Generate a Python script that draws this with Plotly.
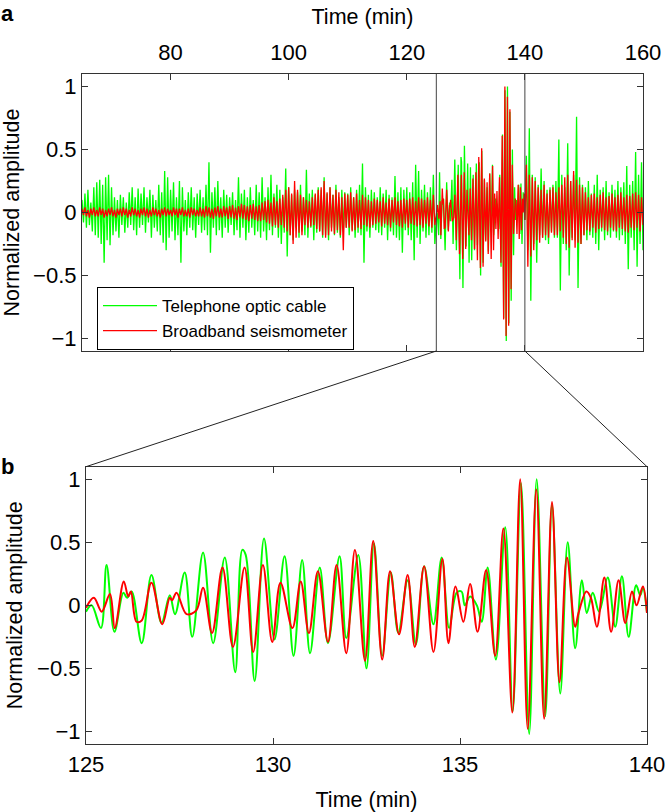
import numpy as np
import plotly.graph_objects as go

# ---------------- data ----------------
# Panel b: extremes of the zoomed window 125-140 min
green_zoom_t = [125.0, 125.15, 125.40, 125.55, 125.76, 126.0, 126.1, 126.22, 126.49, 126.75,
                127.02, 127.24, 127.38, 127.64, 127.84, 128.13, 128.40, 128.71, 128.99, 129.18,
                129.27, 129.51, 129.76, 130.04, 130.31, 130.55, 130.78, 130.99, 131.25, 131.47,
                131.78, 131.96, 132.28, 132.50, 132.70, 132.92, 133.15, 133.35, 133.60, 133.82,
                134.04, 134.29, 134.51, 134.71, 134.91, 135.04, 135.13, 135.27, 135.45, 135.58,
                135.74, 135.96, 136.21, 136.41, 136.63, 136.85, 137.05, 137.28, 137.46, 137.68,
                137.88, 138.08, 138.26, 138.39, 138.55, 138.72, 138.95, 139.15, 139.33, 139.51,
                139.71, 139.82, 139.89, 140.0]
green_zoom_v = [-0.05, 0.0, -0.18, 0.32, -0.21, 0.10, 0.06, 0.11, -0.30, 0.24,
                -0.14, 0.08, -0.07, 0.26, -0.25, 0.42, -0.30, 0.38, -0.53, 0.44,
                0.40, -0.60, 0.53, -0.27, 0.39, -0.40, 0.36, -0.38, 0.30, -0.30,
                0.39, -0.26, 0.40, -0.50, 0.49, -0.40, 0.26, -0.22, 0.20, -0.31,
                0.31, -0.15, 0.38, -0.18, 0.10, 0.11, 0.0, 0.07, 0.0, -0.13,
                0.30, -0.43, 0.62, -0.84, 0.97, -1.02, 1.0, -0.88, 0.80, -0.70,
                0.50, -0.34, 0.20, -0.06, 0.10, -0.05, 0.22, -0.17, 0.23, -0.25,
                0.16, 0.08, 0.14, -0.06]

red_zoom_t = [125.0, 125.21, 125.42, 125.64, 125.77, 126.01, 126.13, 126.20, 126.35, 126.49,
              126.75, 127.04, 127.24, 127.30, 127.42, 127.69, 127.95, 128.13, 128.37, 128.65,
              128.93, 129.24, 129.47, 129.73, 129.98, 130.20, 130.52, 130.74, 130.96, 131.20,
              131.47, 131.70, 131.96, 132.19, 132.46, 132.68, 132.92, 133.13, 133.37, 133.60,
              133.79, 134.04, 134.29, 134.53, 134.69, 134.88, 135.09, 135.27, 135.47, 135.70,
              135.94, 136.16, 136.40, 136.61, 136.81, 137.04, 137.25, 137.46, 137.66, 137.86,
              138.08, 138.17, 138.38, 138.50, 138.66, 138.86, 139.04, 139.24, 139.42, 139.60,
              139.72, 139.89, 140.0]
red_zoom_v = [-0.02, 0.06, -0.05, 0.09, -0.18, 0.19, 0.07, 0.11, -0.13, -0.12,
              0.18, -0.15, 0.06, 0.04, 0.10, -0.07, -0.04, 0.14, -0.22, 0.30,
              -0.33, 0.30, -0.37, 0.32, -0.29, 0.18, -0.18, 0.19, -0.22, 0.27,
              -0.29, 0.32, -0.38, 0.44, -0.44, 0.51, -0.43, 0.27, -0.23, 0.24,
              -0.33, 0.31, -0.37, 0.37, -0.30, 0.15, -0.13, 0.17, -0.21, 0.28,
              -0.40, 0.61, -0.85, 1.0, -0.98, 0.92, -0.90, 0.82, -0.61, 0.38,
              -0.17, -0.06, 0.11, 0.06, -0.17, 0.22, -0.21, 0.20, -0.14, 0.11,
              0.0, 0.15, -0.06]

# Panel a: samples every 0.25 min before (65-124.75) and after (140.25-160) the window
green_before = [
    0.10, -0.08, 0.15, -0.12, 0.18, -0.10, 0.08, -0.15, 0.20, -0.18, 0.24, -0.20, 0.26, -0.25, 0.22, -0.40, 0.28, -0.22, 0.30, -0.26,
    0.20, -0.18, 0.12, -0.15, 0.10, -0.20, 0.14, -0.10, 0.12, -0.16, 0.08, -0.12, 0.16, -0.10, 0.20, -0.14, 0.12, -0.18, 0.19, -0.12,
    0.15, -0.10, 0.20, -0.16, 0.12, -0.08, 0.18, -0.20, 0.14, -0.12, 0.10, -0.15, 0.22, -0.18, 0.16, -0.24, 0.33, -0.30, 0.28, -0.20,
    0.18, -0.15, 0.24, -0.22, 0.12, -0.18, 0.25, -0.40, 0.20, -0.15, 0.10, -0.18, 0.16, -0.12, 0.20, -0.14, 0.12, -0.20, 0.15, -0.10,
    0.18, -0.16, 0.12, -0.14, 0.22, -0.18, 0.40, -0.32, 0.16, -0.12, 0.20, -0.18, 0.25, -0.14, 0.12, -0.20, 0.18, -0.12, 0.14, -0.16,
    0.12, -0.10, 0.16, -0.18, 0.10, -0.14, 0.28, -0.20, 0.15, -0.12, 0.18, -0.22, 0.12, -0.16, 0.20, -0.12, 0.10, -0.18, 0.22, -0.15,
    0.16, -0.20, 0.28, -0.15, 0.12, -0.22, 0.20, -0.14, 0.30, -0.18, 0.15, -0.12, 0.22, -0.20, 0.18, -0.25, 0.12, -0.16, 0.35, -0.35,
    0.20, -0.18, 0.14, -0.22, 0.18, -0.12, 0.16, -0.20, 0.22, -0.15, 0.12, -0.18, 0.34, -0.20, 0.15, -0.12, 0.18, -0.22, 0.14, -0.16,
    0.20, -0.15, 0.18, -0.20, 0.28, -0.18, 0.15, -0.22, 0.20, -0.12, 0.14, -0.18, 0.22, -0.16, 0.12, -0.20, 0.18, -0.15, 0.16, -0.12,
    0.15, -0.18, 0.20, -0.14, 0.12, -0.20, 0.18, -0.16, 0.22, -0.18, 0.39, -0.40, 0.20, -0.15, 0.14, -0.20, 0.18, -0.12, 0.16, -0.14,
    0.12, -0.16, 0.20, -0.18, 0.15, -0.12, 0.18, -0.22, 0.14, -0.15, 0.12, -0.18, 0.29, -0.20, 0.16, -0.22, 0.20, -0.32, 0.18, -0.14,
    0.20, -0.18, 0.16, -0.22, 0.24, -0.38, 0.38, -0.20, 0.33, -0.25, 0.18, -0.15, 0.22, -0.20, 0.16, -0.18, 0.20, -0.16, 0.30, -0.25]
red_before = [
    0.03, -0.02, 0.04, -0.03, 0.02, -0.04, 0.03, -0.02, 0.04, -0.03, 0.02, -0.03, 0.04, -0.02, 0.03, -0.04, 0.02, -0.03, 0.03, -0.02,
    0.04, -0.03, 0.02, -0.04, 0.03, -0.02, 0.03, -0.03, 0.04, -0.02, 0.03, -0.04, 0.02, -0.03, 0.04, -0.02, 0.03, -0.03, 0.02, -0.04,
    0.03, -0.02, 0.04, -0.03, 0.03, -0.04, 0.02, -0.03, 0.04, -0.02, 0.03, -0.03, 0.02, -0.04, 0.03, -0.02, 0.04, -0.03, 0.03, -0.02,
    0.02, -0.03, 0.04, -0.02, 0.03, -0.04, 0.03, -0.02, 0.04, -0.03, 0.02, -0.03, 0.03, -0.04, 0.04, -0.02, 0.03, -0.03, 0.02, -0.03,
    0.04, -0.03, 0.03, -0.04, 0.05, -0.03, 0.04, -0.04, 0.03, -0.05, 0.04, -0.03, 0.05, -0.04, 0.03, -0.04, 0.05, -0.03, 0.04, -0.05,
    0.05, -0.04, 0.06, -0.05, 0.04, -0.06, 0.05, -0.04, 0.07, -0.05, 0.06, -0.06, 0.05, -0.07, 0.06, -0.05, 0.07, -0.06, 0.05, -0.07,
    0.06, -0.07, 0.08, -0.06, 0.09, -0.08, 0.10, -0.09, 0.08, -0.11, 0.12, -0.10, 0.09, -0.12, 0.11, -0.10, 0.14, -0.12, 0.18, -0.15,
    0.20, -0.18, 0.15, -0.25, 0.25, -0.20, 0.18, -0.16, 0.14, -0.18, 0.12, -0.10, 0.10, -0.12, 0.09, -0.11, 0.12, -0.10, 0.15, -0.13,
    0.18, -0.15, 0.20, -0.18, 0.25, -0.20, 0.16, -0.18, 0.20, -0.15, 0.14, -0.17, 0.18, -0.14, 0.16, -0.18, 0.12, -0.30, 0.15, -0.12,
    0.14, -0.12, 0.16, -0.15, 0.12, -0.14, 0.15, -0.12, 0.10, -0.13, 0.14, -0.10, 0.12, -0.11, 0.10, -0.12, 0.09, -0.10, 0.11, -0.09,
    0.10, -0.08, 0.09, -0.11, 0.12, -0.09, 0.08, -0.10, 0.11, -0.12, 0.10, -0.08, 0.12, -0.10, 0.09, -0.11, 0.10, -0.12, 0.11, -0.09,
    0.10, -0.12, 0.11, -0.09, 0.12, -0.10, 0.09, -0.11, 0.12, -0.10, 0.11, -0.12, 0.10, -0.09, 0.12, -0.11, 0.10, -0.12, 0.14, -0.10]
green_after = [
    0.45, -0.30, 0.67, -0.70, 0.30, -0.25, 0.28, -0.40, 0.22, -0.18, 0.35, -0.20, 0.25, -0.22, 0.18, -0.25, 0.20, -0.15, 0.22, -0.20,
    0.25, -0.20, 0.58, -0.62, 0.30, -0.25, 0.20, -0.30, 0.55, -0.50, 0.25, -0.20, 0.30, -0.22, 0.76, -0.60, 0.28, -0.25, 0.22, -0.18,
    0.20, -0.22, 0.25, -0.18, 0.15, -0.20, 0.22, -0.25, 0.30, -0.30, 0.18, -0.15, 0.20, -0.22, 0.25, -0.18, 0.16, -0.20, 0.22, -0.15,
    0.18, -0.20, 0.25, -0.22, 0.20, -0.18, 0.24, -0.25, 0.37, -0.45, 0.22, -0.20, 0.25, -0.30, 0.48, -0.43, 0.30, -0.25, 0.40, -0.30]
red_after = [
    0.38, -0.43, 0.30, -0.35, 0.28, -0.30, 0.25, -0.22, 0.20, -0.24, 0.18, -0.20, 0.22, -0.18, 0.15, -0.20, 0.18, -0.16, 0.20, -0.18,
    0.16, -0.18, 0.20, -0.15, 0.22, -0.20, 0.28, -0.25, 0.30, -0.28, 0.25, -0.22, 0.33, -0.28, 0.26, -0.24, 0.22, -0.25, 0.20, -0.18,
    0.16, -0.14, 0.12, -0.15, 0.14, -0.12, 0.15, -0.16, 0.12, -0.13, 0.14, -0.12, 0.16, -0.14, 0.12, -0.15, 0.13, -0.12, 0.15, -0.14,
    0.12, -0.15, 0.14, -0.12, 0.16, -0.13, 0.12, -0.15, 0.14, -0.16, 0.13, -0.12, 0.15, -0.14, 0.16, -0.12, 0.14, -0.15, 0.12, -0.10]

t_before = 65 + 0.25 * np.arange(len(green_before))
t_after = 140.25 + 0.25 * np.arange(len(green_after))

top_x_ticks = [80, 100, 120, 140, 160]
bot_x_ticks = [125, 130, 135, 140]
y_ticks = [-1, -0.5, 0, 0.5, 1]
y_ticktext = ["\u22121", "\u22120.5", "0", "0.5", "1"]
series_names = ["Telephone optic cable", "Broadband seismometer"]
zoom_window = [125, 140]

GREEN = "#00ff00"
RED = "#ff0000"
AXC = "#333333"
FONT = "Liberation Sans, Arial, Helvetica, sans-serif"

# ---------------- layout geometry ----------------
W, H = 668, 812
top_xd = [82 / W, 643 / W]
bot_xd = [86 / W, 647 / W]
top_yd = [1 - 351 / H, 1 - 74 / H]
bot_yd = [1 - 744 / H, 1 - 466.7 / H]
top_range = [65, 160]

fig = go.Figure()

gx_top = np.concatenate([t_before, green_zoom_t, t_after])
gy_top = np.concatenate([green_before, green_zoom_v, green_after])
rx_top = np.concatenate([t_before, red_zoom_t, t_after])
ry_top = np.concatenate([red_before, red_zoom_v, red_after])

fig.add_trace(go.Scatter(x=gx_top, y=gy_top, mode="lines", name=series_names[0],
                         line=dict(color=GREEN, width=1.3), xaxis="x", yaxis="y"))
fig.add_trace(go.Scatter(x=rx_top, y=ry_top, mode="lines", name=series_names[1],
                         line=dict(color=RED, width=1.3), xaxis="x", yaxis="y"))
fig.add_trace(go.Scatter(x=green_zoom_t, y=green_zoom_v, mode="lines", showlegend=False,
                         line=dict(color=GREEN, width=2, shape="spline", smoothing=1.0),
                         xaxis="x2", yaxis="y2"))
fig.add_trace(go.Scatter(x=red_zoom_t, y=red_zoom_v, mode="lines", showlegend=False,
                         line=dict(color=RED, width=2, shape="spline", smoothing=1.0),
                         xaxis="x2", yaxis="y2"))

axis_common = dict(showgrid=False, zeroline=False, showline=True, linecolor=AXC, linewidth=1.2,
                   ticks="inside", ticklen=6, tickcolor=AXC, mirror="allticks",
                   tickfont=dict(size=22, color="black", family=FONT), automargin=False)

fig.update_layout(
    width=W, height=H, margin=dict(l=0, r=0, t=0, b=0),
    paper_bgcolor="white", plot_bgcolor="white",
    font=dict(family=FONT, color="black"),
    xaxis=dict(domain=top_xd, anchor="y", side="top", range=top_range,
               tickmode="array", tickvals=top_x_ticks, ticklabelstandoff=4,
               title=dict(text="Time (min)", font=dict(size=21.5), standoff=9), **axis_common),
    yaxis=dict(domain=top_yd, anchor="x", range=[-1.1, 1.1], tickmode="array",
               tickvals=y_ticks, ticktext=y_ticktext,
               title=dict(text="Normalized amplitude", font=dict(size=21.5), standoff=8), **axis_common),
    xaxis2=dict(domain=bot_xd, anchor="y2", range=zoom_window, tickmode="array",
                tickvals=bot_x_ticks,
                title=dict(text="Time (min)", font=dict(size=21.5), standoff=16), **axis_common),
    yaxis2=dict(domain=bot_yd, anchor="x2", range=[-1.1, 1.1], tickmode="array",
                tickvals=y_ticks, ticktext=y_ticktext,
                title=dict(text="Normalized amplitude", font=dict(size=21.5), standoff=8), **axis_common),
    legend=dict(x=97 / W, y=1 - 287 / H, xanchor="left", yanchor="top",
                bgcolor="white", bordercolor="black", borderwidth=1, itemwidth=54,
                entrywidth=205, entrywidthmode="pixels",
                font=dict(size=17, family=FONT, color="black"), tracegroupgap=0),
    showlegend=True,
)

# vertical lines marking the zoom window in panel a
for tv in zoom_window:
    fig.add_shape(type="line", xref="x", yref="y domain", x0=tv, x1=tv, y0=0, y1=1,
                  line=dict(color="#444444", width=1))

# connector lines between panels
def top_px(tv):
    return top_xd[0] + (tv - top_range[0]) / (top_range[1] - top_range[0]) * (top_xd[1] - top_xd[0])

fig.add_shape(type="line", xref="paper", yref="paper", x0=top_px(zoom_window[0]), y0=top_yd[0],
              x1=bot_xd[0], y1=bot_yd[1], line=dict(color="#222222", width=1))
fig.add_shape(type="line", xref="paper", yref="paper", x0=top_px(zoom_window[1]), y0=top_yd[0],
              x1=bot_xd[1], y1=bot_yd[1], line=dict(color="#222222", width=1))

# panel letters
fig.add_annotation(text="<b>a</b>", xref="paper", yref="paper", x=0.0, y=1.0,
                   xanchor="left", yanchor="top", showarrow=False, borderpad=0,
                   font=dict(size=22, family=FONT, color="black"))
fig.add_annotation(text="<b>b</b>", xref="paper", yref="paper", x=0.0, y=1 - 453 / H,
                   xanchor="left", yanchor="top", showarrow=False, borderpad=0,
                   font=dict(size=22, family=FONT, color="black"))

fig.write_html("out.html", config={"displayModeBar": False},
               post_script="document.body.style.margin='0';document.body.style.overflow='hidden';")
